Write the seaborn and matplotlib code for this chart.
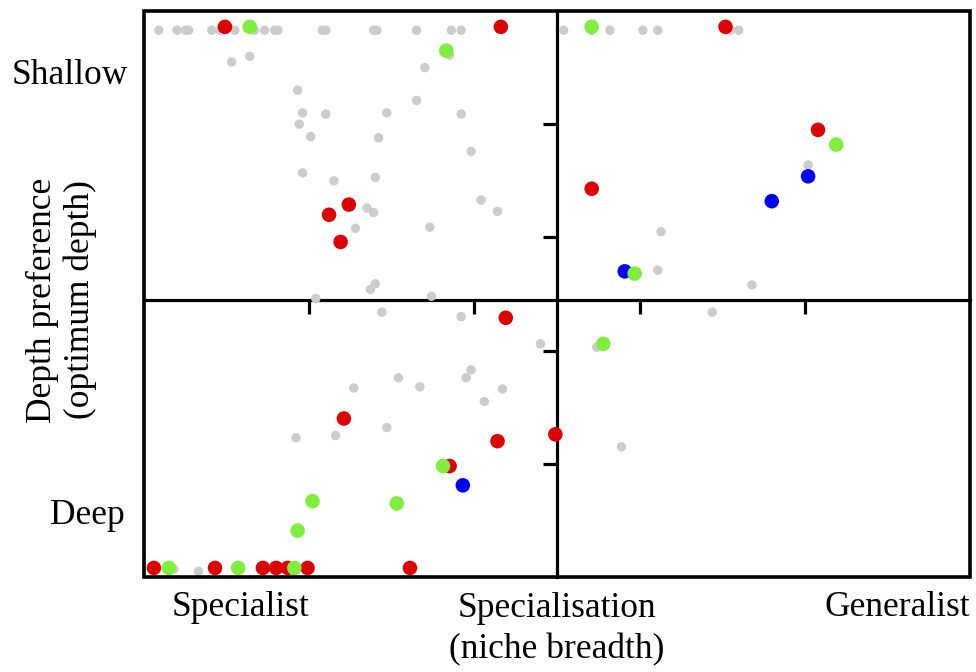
import matplotlib
matplotlib.use("Agg")
import matplotlib.pyplot as plt
import seaborn as sns
import pandas as pd
from matplotlib.patches import Rectangle

# ---- data (x = specialisation / niche breadth, y = depth preference) ----
grey_x = [0.09, 0.20, 0.25, 0.27, 0.41, 0.46, 0.55, 0.67, 0.73, 0.79, 0.81, 1.08, 1.10,
          1.39, 1.41, 1.65, 1.86, 1.92, 2.54, 2.71, 2.82, 3.02, 3.11, 3.55, 3.60,
          0.53, 0.64, 1.70, 1.85, 0.93, 1.65, 0.96, 1.10, 1.47, 1.92, 0.94, 1.01, 1.42,
          1.98, 0.96, 1.15, 1.40, 2.04, 2.14, 1.35, 1.39, 1.28, 1.73, 1.40, 1.37, 1.04,
          1.74, 1.44, 1.92, 2.40, 1.98, 1.95, 1.54, 1.67, 1.27, 2.17, 2.06, 1.47, 1.16,
          0.92, 0.33, 0.18, 4.02, 3.13, 3.11, 3.68, 3.44, 2.74, 2.89]
grey_y = [4.83] * 25 + [
          4.55, 4.60, 4.50, 4.61, 4.30, 4.21, 4.10, 4.09, 4.10, 4.09, 4.00, 3.89, 3.88,
          3.76, 3.57, 3.50, 3.53, 3.33, 3.23, 3.26, 3.22, 3.08, 3.09, 2.59, 2.54, 2.46,
          2.48, 2.34, 2.30, 2.06, 1.83, 1.76, 1.76, 1.68, 1.67, 1.66, 1.55, 1.32, 1.25,
          1.23, 0.05, 0.07, 3.64, 3.05, 2.71, 2.58, 2.34, 2.03, 1.15]

red_x = [0.49, 2.16, 3.52, 1.24, 1.12, 1.19, 4.08, 2.71, 2.19, 1.21, 2.14, 2.49, 1.85,
         0.06, 0.43, 0.72, 0.80, 0.87, 0.99, 1.61]
red_y = [4.86, 4.86, 4.86, 3.29, 3.20, 2.96, 3.95, 3.43, 2.29, 1.40, 1.20, 1.26, 0.98,
         0.08, 0.08, 0.08, 0.08, 0.08, 0.08, 0.08]

blue_x = [1.93, 4.02, 3.80, 2.91]
blue_y = [0.81, 3.54, 3.32, 2.70]

green_x = [0.64, 2.71, 1.83, 4.19, 2.97, 2.78, 1.81, 1.02, 1.53, 0.93, 0.15, 0.57, 0.91]
green_y = [4.86, 4.86, 4.65, 3.82, 2.68, 2.06, 0.98, 0.67, 0.65, 0.41, 0.08, 0.08, 0.08]

x_ticks = [1, 2, 3, 4]
y_ticks = [1, 2, 3, 4]
x_center = 2.5
y_center = 2.45

sns.set_theme(style="white")
plt.rcParams['font.family'] = ['Liberation Serif', 'DejaVu Serif']
plt.rcParams['text.color'] = 'black'

W, H = 976, 672
fig = plt.figure(figsize=(W / 100, H / 100), dpi=100)
ax = fig.add_axes([144 / W, 1 - 577 / H, 826 / W, 566 / H])

groups = [
    (grey_x, grey_y, "#cccccc", 46),
    (red_x, red_y, "#dd0000", 110),
    (blue_x, blue_y, "#0000ee", 110),
    (green_x, green_y, "#80ee3c", 110),
]
for gx, gy, col, s in groups:
    df = pd.DataFrame({"x": gx, "y": gy})
    sns.scatterplot(data=df, x="x", y="y", ax=ax, color=col, s=s,
                    edgecolor="none", linewidth=0, clip_on=False, zorder=3)

ax.set_xlim(0, 5)
ax.set_ylim(0, 5)
ax.set_xlabel("")
ax.set_ylabel("")

# centre "axes" lines with ticks
for side in ["top", "right"]:
    ax.spines[side].set_visible(False)
ax.spines["left"].set_position(("data", x_center))
ax.spines["bottom"].set_position(("data", y_center))
for side in ["left", "bottom"]:
    ax.spines[side].set_linewidth(2.3)
    ax.spines[side].set_color("black")
    ax.spines[side].set_zorder(2)
ax.set_xticks(x_ticks)
ax.set_yticks(y_ticks)
ax.set_xticklabels([])
ax.set_yticklabels([])
ax.tick_params(axis="both", direction="out", length=10, width=2.3, color="black",
               bottom=True, left=True)

# outer frame
ax.add_patch(Rectangle((0, 0), 1, 1, transform=ax.transAxes, fill=False,
                       lw=2.6, edgecolor="black", clip_on=False, zorder=4))

fs = 25.5
def ftext(px, py, s, **kw):
    fig.text(px / W, 1 - py / H, s, fontsize=fs, ha="center", va="center",
             color="black", **kw)

ftext(70, 75, "Shallow")
ftext(87, 515, "Deep")
ftext(61, 300, "Depth preference\n(optimum depth)", rotation=90, linespacing=1.18)
ftext(241, 607, "Specialist")
ftext(897, 607, "Generalist")
ftext(557, 629, "Specialisation\n(niche breadth)", linespacing=1.34)

fig.savefig("out.png", dpi=100, facecolor="white")
